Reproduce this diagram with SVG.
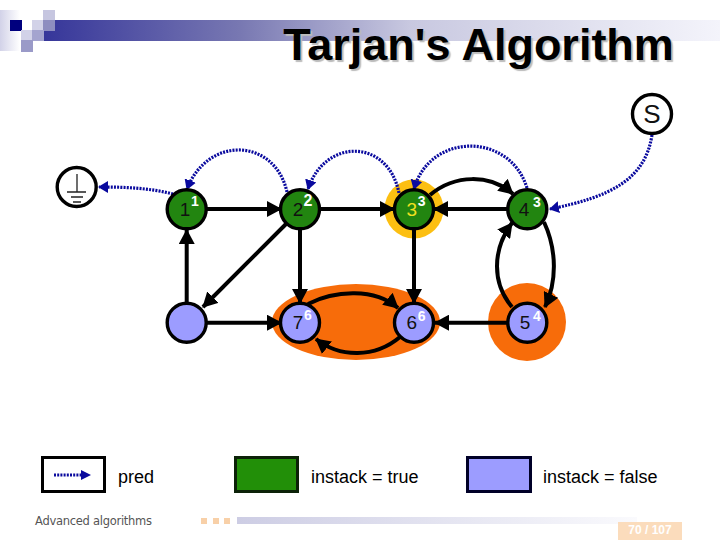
<svg xmlns="http://www.w3.org/2000/svg" width="720" height="540" viewBox="0 0 720 540">
<style>
.n{stroke:#000;stroke-width:3.4}
.g{fill:#228510}
.b{fill:#9c9cff}
.e{fill:none;stroke:#000;stroke-width:4}
.p{fill:none;stroke:#0a0a9e;stroke-width:3.2;stroke-dasharray:2 1.2}
text{font-family:"Liberation Sans",Arial,sans-serif}
.l{font-size:19px;fill:#111;text-anchor:middle}
.s{font-size:14px;font-weight:bold;fill:#fff;text-anchor:middle}
.t{font-size:18px;fill:#000}
</style>
<defs>
<marker id="a" markerUnits="userSpaceOnUse" markerWidth="17" markerHeight="16" refX="14" refY="8" orient="auto"><path d="M0 0L15 8L0 16z" fill="#000"/></marker>
<marker id="d" markerUnits="userSpaceOnUse" markerWidth="11" markerHeight="12" refX="9" refY="6" orient="auto"><path d="M0 0L10 6L0 12z" fill="#0a0a9e"/></marker>
<linearGradient id="h1" x1="0" x2="1" y1="0" y2="0"><stop offset="0" stop-color="#36369a"/><stop offset=".29" stop-color="#7878b2"/><stop offset=".54" stop-color="#c8c8e0"/><stop offset="1" stop-color="#f4f4fb"/></linearGradient>
<linearGradient id="h2" x1="0" x2="1" y1="0" y2="0"><stop offset="0" stop-color="#cdcde4"/><stop offset="1" stop-color="#fafafd"/></linearGradient>
<linearGradient id="h3" x1="0" x2="1" y1="0" y2="0"><stop offset="0" stop-color="#d2d2e8"/><stop offset="1" stop-color="#fff"/></linearGradient>
</defs>
<g id="decor">
<rect x="0" y="10" width="20" height="41" fill="url(#h3)"/>
<rect x="44" y="20" width="676" height="21" fill="url(#h1)"/>
<rect x="43" y="10" width="12" height="11" fill="#c6c6e0"/>
<rect x="32" y="20" width="12" height="11" fill="#d2d2e8"/>
<rect x="43" y="20" width="12" height="11" fill="#8e8ec0"/>
<rect x="10" y="20" width="12" height="11" fill="#00007e"/>
<rect x="21" y="30" width="11" height="11" fill="#d2d2e8"/>
<rect x="32" y="30" width="12" height="11" fill="#a4a4cf"/>
<rect x="21" y="40" width="12" height="12" fill="#9a9ac8"/>
<rect x="237" y="517" width="400" height="7" fill="url(#h2)"/>
<rect x="201" y="518" width="6" height="6" fill="#f8d0a8"/>
<rect x="213" y="518" width="6" height="6" fill="#f8d0a8"/>
<rect x="224" y="518" width="6" height="6" fill="#f8d0a8"/>
<rect x="618" y="522" width="64" height="18" fill="#fbdcbc"/>
<text x="650" y="534" font-size="12" font-weight="bold" fill="#fff" text-anchor="middle">70 / 107</text>
<text x="35" y="525" font-size="11.5" fill="#555" textLength="117" style="font-family:'DejaVu Sans',sans-serif">Advanced algorithms</text>
</g>
<text id="title" x="478.500" y="60" font-size="45" font-weight="bold" text-anchor="middle" fill="#000" style="text-shadow:2px 2px 1px #bbb">Tarjan's Algorithm</text>
<g id="highlights">
<ellipse cx="356" cy="322" rx="84" ry="38" fill="#f76c0a"/>
<circle cx="527" cy="322" r="39" fill="#f76c0a"/>
<circle cx="414" cy="209" r="29.500" fill="#fcbf12"/>
</g>
<g id="connectors">
<path class="e" marker-end="url(#a)" d="M207 209H281"/>
<path class="e" marker-end="url(#a)" d="M320 209H394"/>
<path class="e" marker-end="url(#a)" d="M507 209H434"/>
<path class="e" marker-end="url(#a)" d="M186.700 302V230"/>
<path class="e" marker-end="url(#a)" d="M286 224L203 307"/>
<path class="e" marker-end="url(#a)" d="M207 322.700H281"/>
<path class="e" marker-end="url(#a)" d="M300 229V303"/>
<path class="e" marker-end="url(#a)" d="M414 229V303"/>
<path class="e" marker-end="url(#a)" d="M507 322.700H435"/>
<path class="e" marker-end="url(#a)" d="M430 195C455 174 490 174 513 194"/>
<path class="e" marker-end="url(#a)" d="M544 222C557 250 557 282 545 307"/>
<path class="e" marker-end="url(#a)" d="M512 307C492 283 492 250 512 223"/>
<path class="e" marker-end="url(#a)" d="M308 304C335 290 375 288 398 308"/>
<path class="e" marker-end="url(#a)" d="M400 337C375 358 340 358 316 339"/>
<path class="p" marker-end="url(#d)" d="M173 194C150 188 125 187 99 187"/>
<path class="p" marker-end="url(#d)" d="M287 192C275 138 208 135 187 189"/>
<path class="p" marker-end="url(#d)" d="M399 193C388 138 325 138 308 189"/>
<path class="p" marker-end="url(#d)" d="M527 188C510 132 430 132 414 189"/>
<path class="p" marker-end="url(#d)" d="M652 135C645 180 610 197 550 209"/>
</g>
<g id="n1"><circle class="n g" cx="186.700" cy="209.300" r="19.500"/><text class="l" x="185" y="216">1</text><text class="s" x="195" y="206">1</text></g>
<g id="n2"><circle class="n g" cx="300" cy="209.300" r="19.500"/><text class="l" x="298" y="216">2</text><text class="s" x="308" y="206" style="font-size:16px">2</text></g>
<g id="n3"><circle class="n g" cx="414" cy="209.300" r="19.500"/><text class="l" x="411.700" y="216" style="fill:#f0e020">3</text><text class="s" x="421.700" y="206">3</text></g>
<g id="n4"><circle class="n g" cx="527.300" cy="209.300" r="19.500"/><text class="l" x="524" y="216">4</text><text class="s" x="537" y="207">3</text></g>
<g id="n5"><circle class="n b" cx="527.300" cy="322.700" r="19.500"/><text class="l" x="525" y="329">5</text><text class="s" x="537" y="321">4</text></g>
<g id="n6"><circle class="n b" cx="414" cy="322.700" r="19.500"/><text class="l" x="411.700" y="329">6</text><text class="s" x="421.700" y="321">6</text></g>
<g id="n7"><circle class="n b" cx="300" cy="322.700" r="19.500"/><text class="l" x="298" y="329">7</text><text class="s" x="308" y="320">6</text></g>
<g id="n8"><circle class="n b" cx="186.700" cy="322.700" r="19.500"/></g>
<g id="nS"><circle class="n" fill="#fff" cx="652" cy="114" r="19.500"/><text x="652" y="123" font-size="26" text-anchor="middle" fill="#111">S</text></g>
<g id="ground"><circle class="n" fill="#fff" cx="76.700" cy="187" r="19.500"/>
<path d="M77 174V192M67 192H86M71 197H83M73 202H81" fill="none" stroke="#222" stroke-width="1.300"/></g>
<g id="legend">
<rect x="42.500" y="457.500" width="62" height="34" fill="#fff" stroke="#000" stroke-width="3"/>
<path d="M54 475H82" fill="none" stroke="#0a0a9e" stroke-width="3" stroke-dasharray="2 1.200"/>
<path d="M81 470L91 475L81 480z" fill="#0a0a9e"/>
<text class="t" x="118" y="483">pred</text>
<rect x="235.500" y="457.500" width="62" height="34" fill="#228f08" stroke="#0c2208" stroke-width="3"/>
<text class="t" x="311" y="483">instack = true</text>
<rect x="467.500" y="457.500" width="63" height="34" fill="#9c9cff" stroke="#000028" stroke-width="3"/>
<text class="t" x="543" y="483">instack = false</text>
</g>
</svg>
